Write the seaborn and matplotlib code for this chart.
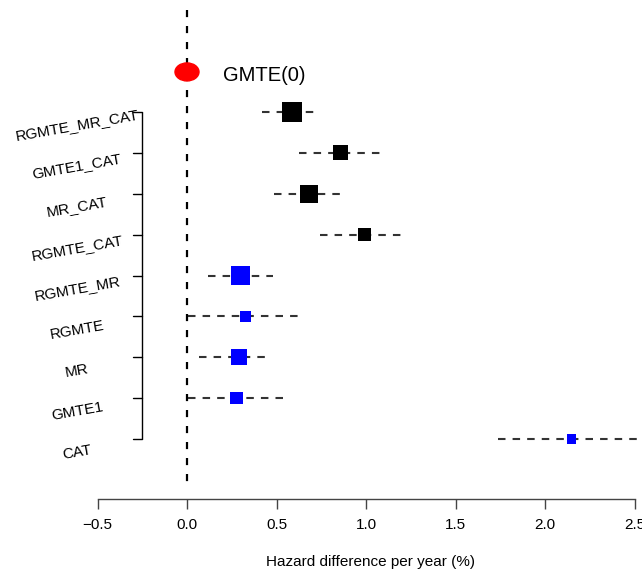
import matplotlib
matplotlib.use("Agg")
import matplotlib.pyplot as plt
from matplotlib.patches import Ellipse
import seaborn as sns
import pandas as pd
import numpy as np

# ---------------- data ----------------
labels = ["RGMTE_MR_CAT", "GMTE1_CAT", "MR_CAT", "RGMTE_CAT",
          "RGMTE_MR", "RGMTE", "MR", "GMTE1", "CAT"]
estimate = [0.587, 0.857, 0.680, 0.994, 0.300, 0.327, 0.288, 0.277, 2.148]
lower = [0.420, 0.626, 0.486, 0.743, 0.117, 0.006, 0.067, 0.005, 1.737]
upper = [0.726, 1.095, 0.870, 1.218, 0.480, 0.642, 0.458, 0.553, 2.600]
weight = [19.1, 10.8, 15.5, 8.1, 17.2, 5.8, 12.2, 7.5, 3.9]
group = ["combined"] * 4 + ["single"] * 5
reference_label = "GMTE(0)"
reference_value = 0.0
xticks = [-0.5, 0.0, 0.5, 1.0, 1.5, 2.0, 2.5]
xlabel = "Hazard difference per year (%)"

df = pd.DataFrame({"label": labels, "est": estimate, "lo": lower,
                   "hi": upper, "weight": weight, "group": group,
                   "row": np.arange(len(labels))})

# ---------------- figure ----------------
sns.set_theme(style="white")
plt.rcParams["font.family"] = ["Liberation Sans", "DejaVu Sans"]
plt.rcParams["text.color"] = "black"
plt.rcParams["xtick.color"] = "black"
plt.rcParams["axes.labelcolor"] = "black"

W, H = 642, 575
fig = plt.figure(figsize=(W / 100, H / 100), dpi=100)
ax = fig.add_axes([0, (H - 499) / H, 1, 499 / H])
ax.set_xlim(-187 / 179, (W - 187) / 179)
ax.set_ylim((499 - 112) / 40.875, -112 / 40.875)
ax.patch.set_alpha(0)

# confidence intervals
for _, r in df.iterrows():
    ax.plot([r.lo, r.hi], [r.row, r.row], color="#333333", lw=1.5,
            dashes=(3.6, 3.4), solid_capstyle="butt", zorder=2)

# reference dashed vertical line
ax.plot([reference_value, reference_value], [-2.5, 9.08], color="black",
        lw=1.6, dashes=(3.2, 4.0), zorder=1)

# estimate boxes
sns.scatterplot(data=df, x="est", y="row", hue="group", size="weight",
                sizes=(0, 1085), size_norm=(0, 100), marker="s",
                palette={"combined": "black", "single": "#0000ff"},
                linewidth=0, legend=False, ax=ax, zorder=3)

# reference marker
ax.add_patch(Ellipse((reference_value, -0.98), width=24 / 179,
                     height=18 / 40.875, color="red", zorder=4))
ax.text(0.201, -0.9, reference_label, fontsize=14.5, ha="left", va="center")

# left bracket axis with rotated labels
bx = (142 - 187) / 179
tx = (133 - 187) / 179
ax.plot([bx, bx], [0, len(labels) - 1], color="black", lw=1.0,
        solid_capstyle="butt")
for i, lab in enumerate(labels):
    ax.plot([tx, bx], [i, i], color="black", lw=1.0)
    ax.text((77 - 187) / 179, i + 0.33, lab, fontsize=11, rotation=10,
            ha="center", va="center", rotation_mode="anchor")

# x axis
sns.despine(ax=ax, left=True, top=True, right=True)
ax.spines["bottom"].set_bounds(xticks[0], xticks[-1])
ax.spines["bottom"].set_color("#444444")
ax.spines["bottom"].set_linewidth(1.0)
ax.set_xticks(xticks)
ax.set_xticklabels([f"{t:.1f}".replace("-", "\u2212") for t in xticks])
ax.tick_params(axis="x", bottom=True, length=7, width=1.0, color="#444444",
               labelsize=11, pad=7)
ax.set_yticks([])
ax.set_ylabel("")
ax.set_xlabel(xlabel, fontsize=11)
ax.xaxis.set_label_coords(371 / W, (499 - 562) / 499)
ax.xaxis.label.set_va("center")
ax.grid(False)

fig.savefig("out.png", dpi=100)
